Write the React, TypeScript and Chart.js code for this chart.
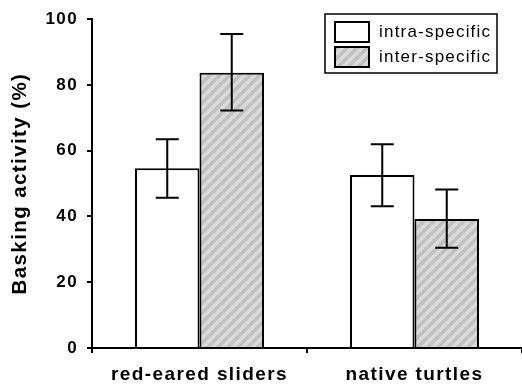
import { useEffect, useRef } from 'react';
import { Chart, registerables } from 'chart.js';

Chart.register(...registerables);

const categories = ['red-eared sliders', 'native turtles'];
const seriesLabels = ['intra-specific', 'inter-specific'];
const intraValues = [54.7, 52.6];
const interValues = [83.7, 39.2];
const intraErrLow = [45.7, 43.1];
const intraErrHigh = [63.5, 62.0];
const interErrLow = [72.2, 30.5];
const interErrHigh = [95.5, 48.2];
const yTickValues = [0, 20, 40, 60, 80, 100];
const yTitle = 'Basking activity (%)';

const FONT = "'Liberation Sans', Arial, Helvetica, sans-serif";

function makeHatch(target: CanvasRenderingContext2D): CanvasPattern | string {
  const size = 10;
  const c = document.createElement('canvas');
  c.width = size;
  c.height = size;
  const g = c.getContext('2d');
  if (!g) return '#c8c8c8';
  g.fillStyle = '#c0c0c0';
  g.fillRect(0, 0, size, size);
  g.strokeStyle = '#dadada';
  g.lineWidth = 3.5;
  g.beginPath();
  g.moveTo(-size / 2, size / 2);
  g.lineTo(size / 2, -size / 2);
  g.moveTo(0, size);
  g.lineTo(size, 0);
  g.moveTo(size / 2, size * 1.5);
  g.lineTo(size * 1.5, size / 2);
  g.stroke();
  return target.createPattern(c, 'repeat') || '#c8c8c8';
}

export default function App() {
  const ref = useRef<HTMLCanvasElement>(null);

  useEffect(() => {
    document.body.style.margin = '0';
    const canvas = ref.current;
    if (!canvas) return;
    const ctx = canvas.getContext('2d');
    if (!ctx) return;
    const hatch = makeHatch(ctx);

    const lows = [intraErrLow, interErrLow];
    const highs = [intraErrHigh, interErrHigh];

    const spacingPlugin = {
      id: 'spacing',
      beforeDraw(chart: any) {
        (chart.ctx as any).letterSpacing = '1.4px';
      },
    };

    const errorBars = {
      id: 'errorBars',
      afterDatasetsDraw(chart: any) {
        const c = chart.ctx;
        const y = chart.scales.y;
        c.save();
        c.strokeStyle = '#000';
        c.lineWidth = 2;
        chart.data.datasets.forEach((_: any, di: number) => {
          const meta = chart.getDatasetMeta(di);
          meta.data.forEach((bar: any, i: number) => {
            const x = bar.x;
            const yl = y.getPixelForValue(lows[di][i]);
            const yh = y.getPixelForValue(highs[di][i]);
            const hw = 11.5;
            c.beginPath();
            c.moveTo(x, yl);
            c.lineTo(x, yh);
            c.moveTo(x - hw, yl);
            c.lineTo(x + hw, yl);
            c.moveTo(x - hw, yh);
            c.lineTo(x + hw, yh);
            c.stroke();
          });
        });
        c.restore();
      },
    };

    const legendPlugin = {
      id: 'boxLegend',
      afterDraw(chart: any) {
        const c = chart.ctx;
        c.save();
        c.strokeStyle = '#000';
        c.lineWidth = 1.5;
        c.fillStyle = '#fff';
        c.fillRect(325, 14, 172, 59);
        c.strokeRect(325, 14, 172, 59);
        chart.data.datasets.forEach((ds: any, i: number) => {
          const top = 22 + i * 25;
          c.fillStyle = ds.backgroundColor;
          c.fillRect(335, top, 34, 20);
          c.lineWidth = 2;
          c.strokeRect(335, top, 34, 20);
          c.fillStyle = '#000';
          c.letterSpacing = '1.2px';
          c.font = `17px ${FONT}`;
          c.textAlign = 'left';
          c.textBaseline = 'middle';
          c.fillText(ds.label, 379, top + 10);
        });
        c.restore();
      },
    };

    const chart = new Chart(canvas, {
      type: 'bar',
      data: {
        labels: categories,
        datasets: [
          {
            label: seriesLabels[0],
            data: intraValues,
            backgroundColor: '#ffffff',
            borderColor: '#000',
            borderWidth: 2,
            categoryPercentage: 0.6,
            barPercentage: 1.0,
          },
          {
            label: seriesLabels[1],
            data: interValues,
            backgroundColor: hatch as any,
            borderColor: '#000',
            borderWidth: 2,
            categoryPercentage: 0.6,
            barPercentage: 1.0,
          },
        ],
      },
      options: {
        responsive: false,
        animation: false,
        layout: { padding: { top: 15, right: 0, left: 0, bottom: 0 } },
        plugins: {
          legend: { display: false },
          tooltip: { enabled: false },
        },
        scales: {
          x: {
            afterFit(scale: any) {
              scale.height = 41;
            },
            border: { display: true, color: '#000', width: 2 },
            grid: {
              drawOnChartArea: false,
              drawTicks: true,
              tickLength: 5,
              color: '#000',
              lineWidth: 2,
            },
            ticks: {
              color: '#000',
              padding: 10,
              font: { family: FONT, size: 19, weight: 'bold' },
            },
          },
          y: {
            min: 0,
            max: 100,
            afterFit(scale: any) {
              scale.width = 92;
            },
            afterBuildTicks(scale: any) {
              scale.ticks = yTickValues.map((v) => ({ value: v }));
            },
            border: { display: true, color: '#000', width: 2 },
            grid: {
              drawOnChartArea: false,
              drawTicks: true,
              tickLength: 5,
              color: '#000',
              lineWidth: 2,
            },
            ticks: {
              color: '#000',
              padding: 9,
              font: { family: FONT, size: 17, weight: 'bold' },
            },
            title: {
              display: true,
              text: yTitle,
              color: '#000',
              padding: { top: 8, bottom: 0 },
              font: { family: FONT, size: 20.5, weight: 'bold' },
            },
          },
        },
      },
      plugins: [spacingPlugin, errorBars, legendPlugin],
    });

    return () => chart.destroy();
  }, []);

  return (
    <div style={{ width: 522, height: 389, background: '#fff' }}>
      <canvas ref={ref} width={522} height={389} />
    </div>
  );
}
